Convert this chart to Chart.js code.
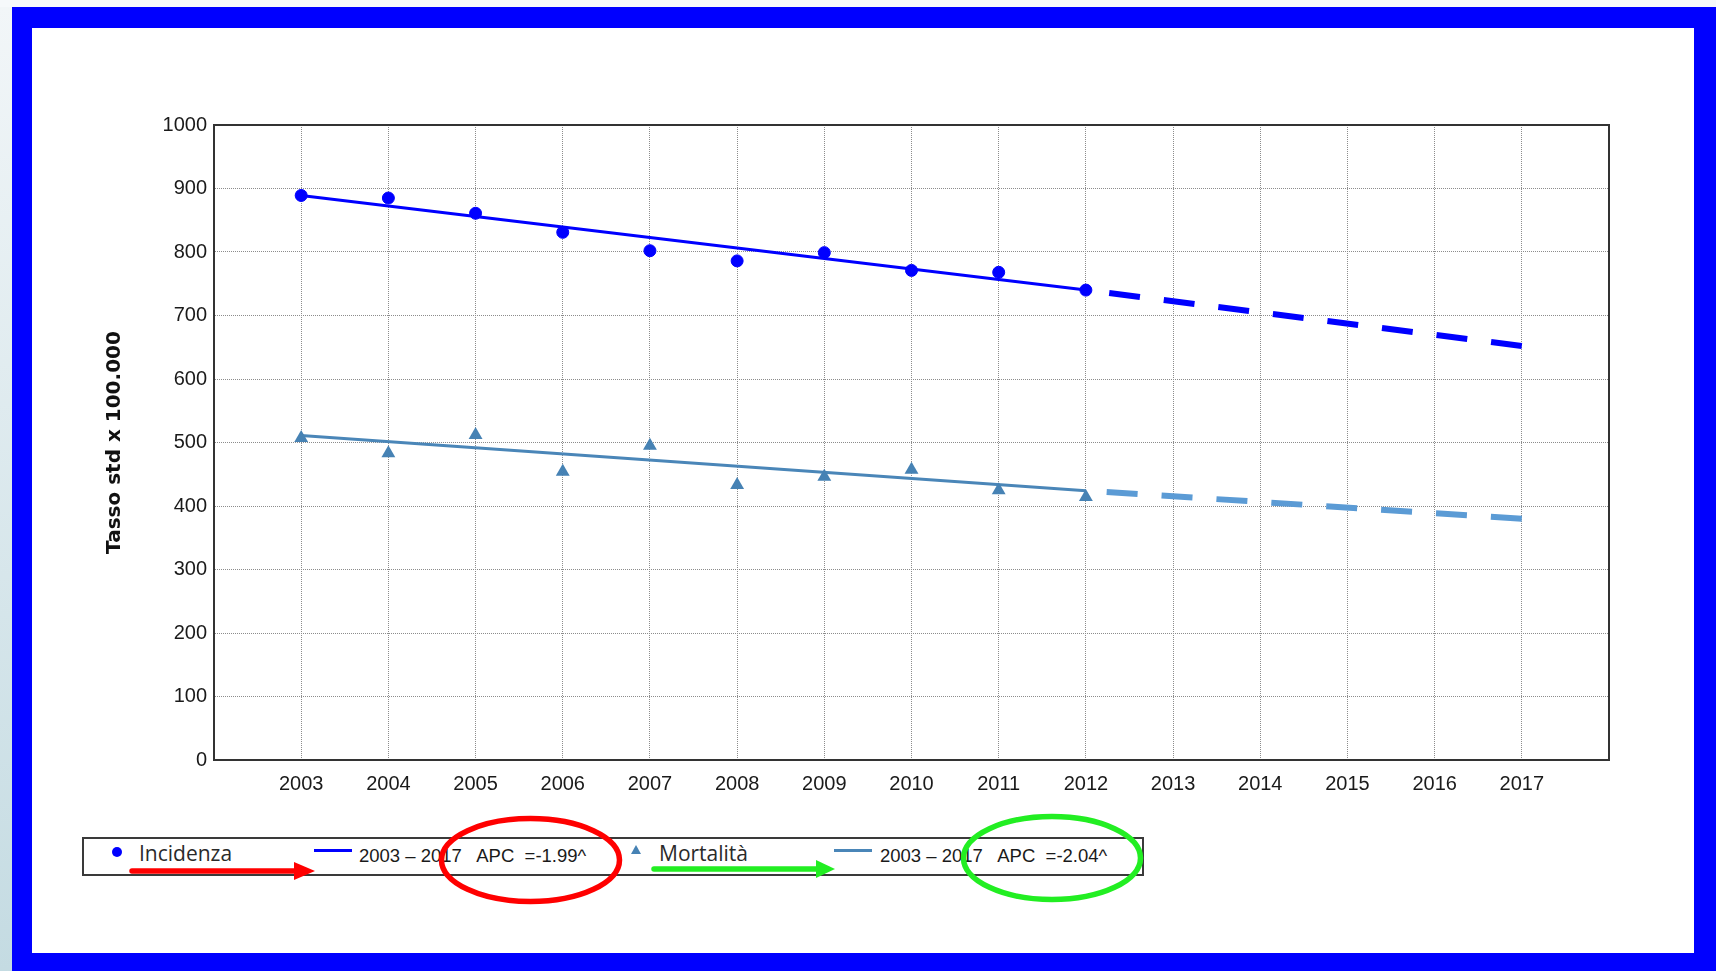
<!DOCTYPE html>
<html>
<head>
<meta charset="utf-8">
<script src="https://cdn.jsdelivr.net/npm/chart.js@4.4.1/dist/chart.umd.min.js"></script>
<style>
html,body{margin:0;padding:0;width:1716px;height:971px;overflow:hidden;background:#f6f9fb;position:relative;}
#strip{position:absolute;left:0;top:7px;width:12px;height:964px;background:linear-gradient(#f2f6f8,#c4dbe2);}
#frame{position:absolute;left:12px;top:7px;width:1704px;height:964px;background:#0000ff;}
#inner{position:absolute;left:32px;top:28px;width:1662px;height:925px;background:#fff;}
#chartbox{position:absolute;left:32px;top:28px;width:1662px;height:925px;}
#legend{position:absolute;left:82px;top:837px;width:1058px;height:35px;border:2px solid #3a3a3a;background:#fff;}
.lg{position:absolute;white-space:pre;}
.name{font-family:"Open Sans",sans-serif;font-size:21px;line-height:26px;height:26px;color:#2a2a2a;}
.apc{font-family:"Liberation Sans",Arial,sans-serif;font-size:18.5px;line-height:22px;height:22px;color:#1a1a1a;}
svg#ann{position:absolute;left:0;top:0;}
</style>
</head>
<body>
<div id="strip"></div>
<div id="frame"></div>
<div id="inner"></div>
<div id="chartbox"><canvas id="c"></canvas></div>
<div id="legend"></div>
<div class="lg" style="left:112px;top:847px;width:10px;height:10px;border-radius:50%;background:#0000ff;"></div>
<div class="lg name" style="left:139px;top:840px;">Incidenza</div>
<div class="lg" style="left:314px;top:849px;width:38px;height:3px;background:#0000ff;"></div>
<div class="lg apc" style="left:359px;top:845px;">2003 – 2017   APC  =-1.99^</div>
<svg class="lg" style="left:630px;top:844px;" width="12" height="12"><polygon points="6,1 11,10 1,10" fill="#4682b4"/></svg>
<div class="lg name" style="left:659px;top:840px;">Mortalità</div>
<div class="lg" style="left:834px;top:849px;width:38px;height:3px;background:#4a86b8;"></div>
<div class="lg apc" style="left:880px;top:845px;">2003 – 2017   APC  =-2.04^</div>
<svg id="ann" width="1716" height="971">
  <ellipse cx="530.5" cy="860" rx="89" ry="41.5" fill="none" stroke="#ff0000" stroke-width="5.5"/>
  <ellipse cx="1052" cy="858" rx="88.5" ry="41.5" fill="none" stroke="#22ee22" stroke-width="5.5"/>
  <line x1="132" y1="871" x2="296" y2="871" stroke="#ff0000" stroke-width="5.5" stroke-linecap="round"/>
  <polygon points="294,862 315,871 294,880" fill="#ff0000"/>
  <line x1="654" y1="869" x2="818" y2="869" stroke="#22ee22" stroke-width="5.5" stroke-linecap="round"/>
  <polygon points="816,860 835,869 816,878" fill="#22ee22"/>
</svg>
<script>
// ---- data ----
const years = [2003, 2004, 2005, 2006, 2007, 2008, 2009, 2010, 2011, 2012];
const incidenza = [889, 885, 861, 831, 802, 786, 799, 771, 768, 740];
const mortalita = [507, 483, 512, 454, 495, 433, 446, 457, 425, 414];
const trendYears = [2003, 2012];
const incidenzaTrend = [889, 740];
const mortalitaTrend = [511, 424];
const projYears = [2017, 2012];
const incidenzaProj = [652, 740];
const mortalitaProj = [380, 424];
const xTickLabels = [2003, 2004, 2005, 2006, 2007, 2008, 2009, 2010, 2011, 2012, 2013, 2014, 2015, 2016, 2017];
const yTickLabels = [0, 100, 200, 300, 400, 500, 600, 700, 800, 900, 1000];
const xMin = 2002, xMax = 2018;

const pts = (xs, ys) => xs.map((x, i) => ({x: x, y: ys[i]}));

const frameBorder = {
  id: 'frameBorder',
  beforeDatasetsDraw(chart) {
    const a = chart.chartArea, ctx = chart.ctx;
    ctx.save();
    ctx.strokeStyle = '#333';
    ctx.lineWidth = 2;
    ctx.strokeRect(a.left, a.top, a.right - a.left, a.bottom - a.top);
    ctx.restore();
  }
};

const tickFont = {family: '"Liberation Sans", Arial, sans-serif', size: 20};

new Chart(document.getElementById('c'), {
  type: 'line',
  data: {
    datasets: [
      {label: 'Incidenza', data: pts(years, incidenza), showLine: false, pointStyle: 'circle',
       pointRadius: 6, pointBackgroundColor: '#0000ff', pointBorderColor: '#0000ff', pointBorderWidth: 1, order: 0},
      {label: 'Mortalità', data: pts(years, mortalita), showLine: false, pointStyle: 'triangle',
       pointRadius: 8, pointBackgroundColor: '#4682b4', pointBorderColor: '#4682b4', pointBorderWidth: 0, order: 0},
      {label: 'inc trend', data: pts(trendYears, incidenzaTrend), borderColor: '#0000ff', borderWidth: 3,
       pointRadius: 0, tension: 0, order: 1},
      {label: 'mort trend', data: pts(trendYears, mortalitaTrend), borderColor: '#4a86b8', borderWidth: 3,
       pointRadius: 0, tension: 0, order: 1},
      {label: 'inc proj', data: pts(projYears, incidenzaProj), borderColor: '#0000ff', borderWidth: 6,
       borderDash: [31, 24], borderCapStyle: 'butt', pointRadius: 0, tension: 0, order: 1},
      {label: 'mort proj', data: pts(projYears, mortalitaProj), borderColor: '#5b9bd5', borderWidth: 6,
       borderDash: [31, 24], borderCapStyle: 'butt', pointRadius: 0, tension: 0, order: 1}
    ]
  },
  options: {
    responsive: true,
    maintainAspectRatio: false,
    animation: false,
    events: [],
    layout: {padding: {left: 71, top: 97, right: 85, bottom: 133}},
    plugins: {legend: {display: false}, tooltip: {enabled: false}},
    scales: {
      x: {
        type: 'linear', min: xMin, max: xMax,
        afterBuildTicks: s => { s.ticks = xTickLabels.map(v => ({value: v})); },
        afterFit: s => { s.height = 60; },
        ticks: {stepSize: 1, padding: 12, color: '#1a1a1a', font: tickFont, maxRotation: 0, autoSkip: false,
                callback: v => String(v)},
        grid: {color: '#8c8c8c', lineWidth: 1, drawTicks: false},
        border: {display: true, color: '#333', width: 2, dash: [1, 1]}
      },
      y: {
        type: 'linear', min: 0, max: 1000,
        afterBuildTicks: s => { s.ticks = yTickLabels.map(v => ({value: v})); },
        afterFit: s => { s.width = 111; },
        ticks: {padding: 7, color: '#1a1a1a', font: tickFont, callback: v => String(v)},
        grid: {color: '#8c8c8c', lineWidth: 1, drawTicks: false},
        border: {display: true, color: '#333', width: 2, dash: [1, 1]},
        title: {display: true, text: 'Tasso std x 100.000', color: '#111',
                font: {family: '"DejaVu Sans", sans-serif', size: 20, weight: 'bold'}, padding: {top: 0, bottom: 0}}
      }
    }
  },
  plugins: [frameBorder]
});
</script>
</body>
</html>
